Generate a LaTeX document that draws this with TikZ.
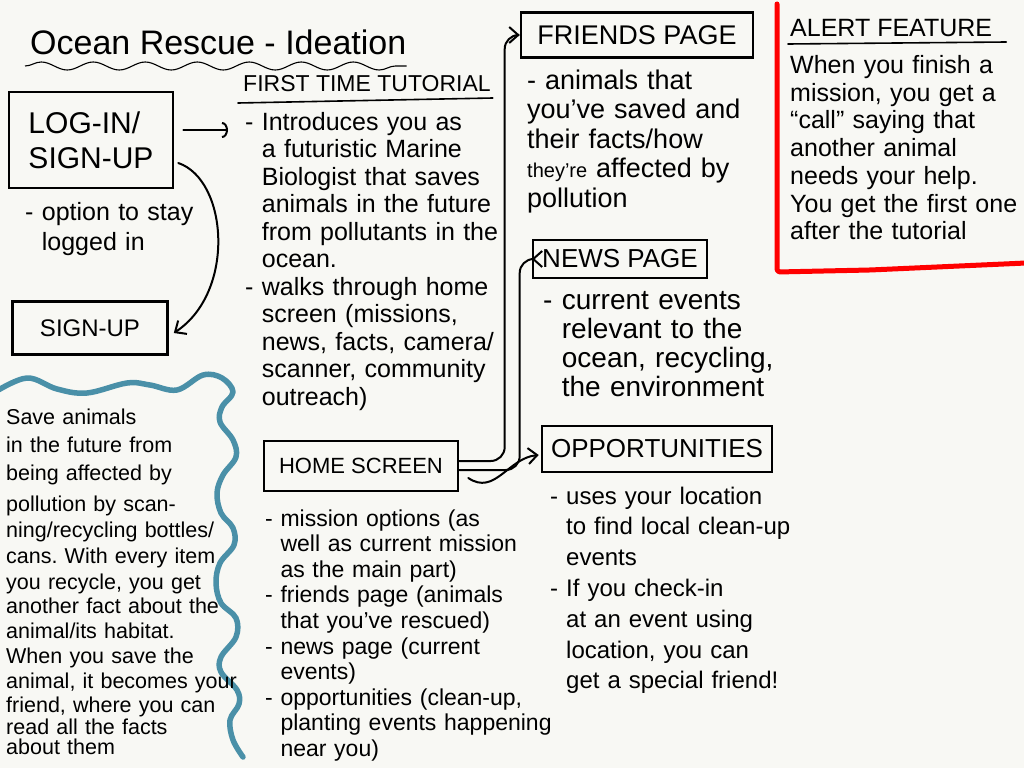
\documentclass[tikz,border=0pt]{standalone}
\usepackage{fontspec}
\setmainfont{Liberation Sans}
\usetikzlibrary{arrows.meta,decorations.pathmorphing}
\definecolor{paper}{RGB}{248,248,244}
\definecolor{seablue}{RGB}{74,144,168}
\definecolor{alertred}{RGB}{255,0,0}
\newcommand\setfs[2]{\fontsize{#1}{#2}\selectfont}
\newcommand\ind{\hphantom{- }}
\frenchspacing
\begin{document}
\begin{tikzpicture}[x=1pt,y=-1pt,
  box/.style={draw=black, line width=2.6pt, inner sep=0pt},
  txt/.style={anchor=base west, inner sep=0pt, text width=300pt, align=left},
  head/.style={anchor=base west, inner sep=0pt},
  uline/.style={line width=1.6pt, line cap=round},
  conn/.style={line width=2pt, line cap=round, line join=round},
  barb/.style={-{Straight Barb[length=9pt,width=16pt]}},
  arcbarb/.style={-{Arc Barb[length=6pt,width=16pt]}},
  wave/.style={seablue, line width=5.5pt, line cap=round, line join=round},
  alertline/.style={alertred, line width=5pt, line cap=round, line join=round, rounded corners=3pt}]

\fill[paper] (0,0) rectangle (1024,768);
\useasboundingbox (0,0) rectangle (1024,768);

% title
\node[head, font=\setfs{34}{40}] (title) at (30,55) {Ocean Rescue - Ideation};
\draw[line width=1.1pt, decorate, decoration={snake, segment length=52pt, amplitude=4pt}]
  ([shift={(-5,11)}]title.base west) -- ([shift={(0,11)}]title.base east);

% login
\node[box, minimum width=164pt, minimum height=96pt, align=left, font=\setfs{30}{35}] (login) at (91,140) {LOG-IN/\\SIGN-UP};
\node[txt, font=\setfs{25}{30}] (opt) at (25,220) {- option to stay\\\ind logged in};
\node[box, minimum width=155pt, minimum height=53pt, font=\setfs{24}{28}] (signup) at (90,328) {SIGN-UP};

% tutorial
\node[head, font=\setfs{23}{27}] (tuthead) at (243,91) {FIRST TIME TUTORIAL};
\draw[uline] ([shift={(-5,12)}]tuthead.base west) -- ([shift={(2,7)}]tuthead.base east);
\node[txt, font=\setfs{25}{27.5}] (tutbody) at (245,130) {- Introduces you as\\\ind a futuristic Marine\\\ind Biologist that saves\\\ind animals in the future\\\ind from pollutants in the\\\ind ocean.\\- walks through home\\\ind screen (missions,\\\ind news, facts, camera/\\\ind scanner, community\\\ind outreach)};

% login connectors
\coordinate (la) at ([shift={(9,-10)}]login.east);
\draw[conn, arcbarb, shorten >=17pt] (la) -- (la -| tutbody.west);
\draw[conn, barb] ([shift={(4,23)}]login.east) .. controls (228,180) and (236,292) .. ([shift={(5,5)}]signup.east);

% blue story area
\draw[wave] plot[smooth, tension=0.6] coordinates {(-5,392) (27,378) (57,389) (87,393) (127,383) (150,385) (177,390) (203,375) (222,378) (233,392) (222,407) (220,422) (233,440) (236,457) (223,475) (217,493) (221,513) (233,528) (234,545) (220,563) (216,583) (221,603) (236,618) (236,637) (221,657) (221,672) (237,690) (239,704) (230,720) (233,740) (243,757)};
\node[txt, font={\setfs{21.5}{20}\lineskiplimit=-100pt\lineskip=0pt}] (story) at (6,424) {Save animals\\[8pt]in the future from\\[8pt]being affected by\\[11pt]pollution by scan-\\[6pt]ning/recycling bottles/\\[6pt]cans. With every item\\[6pt]you recycle, you get\\[4pt]another fact about the\\[5pt]animal/its habitat.\\[5pt]When you save the\\[5pt]animal, it becomes your\\[4pt]friend, where you can\\[2pt]read all the facts\\about them};

% home screen
\node[box, minimum width=194pt, minimum height=50pt, font=\setfs{22}{26}] (home) at (361,466) {HOME SCREEN};
\node[txt, font=\setfs{23}{25.6}] (homebody) at (265,526) {- mission options (as\\\ind well as current mission\\\ind as the main part)\\- friends page (animals\\\ind that you've rescued)\\- news page (current\\\ind events)\\- opportunities (clean-up,\\\ind planting events happening\\\ind near you)};

% friends page
\node[box, minimum width=232pt, minimum height=45pt, font=\setfs{27}{30}] (friends) at (637,35) {FRIENDS PAGE};
\node[txt, font=\setfs{27}{29.5}] (friendsbody) at (527,89) {- animals that\\you've saved and\\their facts/how\\{\fontsize{20}{29.5}\selectfont they're} affected by\\pollution};

% news page
\node[box, minimum width=174pt, minimum height=38pt, font=\setfs{26}{30}] (news) at (620,259) {NEWS PAGE};
\node[txt, font=\setfs{28}{29.3}] (newsbody) at (543,309) {- current events\\\ind relevant to the\\\ind ocean, recycling,\\\ind the environment};

% opportunities
\node[box, minimum width=230pt, minimum height=46pt, font=\setfs{26}{30}] (opp) at (657,449) {OPPORTUNITIES};
\node[txt, font=\setfs{24}{30.8}] (oppbody) at (550,504) {- uses your location\\\ind to find local clean-up\\\ind events\\- If you check-in\\\ind at an event using\\\ind location, you can\\\ind get a special friend!};

% home connectors
\draw[conn, barb, rounded corners=14pt] ([shift={(0,-5)}]home.east) -| ([xshift=-15pt]friends.west) -- (friends.west);
\draw[conn, barb, rounded corners=14pt] ([shift={(0,4)}]home.east) -| ([xshift=-12pt]news.west) -- (news.west);
\draw[conn, barb] ([shift={(9,12)}]home.east) .. controls (495,496) and (508,458) .. ([shift={(-2,6)}]opp.west);

% alert feature
\draw[alertline] (777,4) -- (777,272) -- (870,270) -- (1026,263);
\node[head, font=\setfs{25}{30}] (alerthead) at (790,37) {ALERT FEATURE};
\draw[uline] ([shift={(-2,7)}]alerthead.base west) -- ([shift={(14,5)}]alerthead.base east);
\node[txt, font=\setfs{25}{27.7}] (alertbody) at (790,73.5) {When you finish a\\mission, you get a\\“call” saying that\\another animal\\needs your help.\\You get the first one\\after the tutorial};

\end{tikzpicture}
\end{document}
